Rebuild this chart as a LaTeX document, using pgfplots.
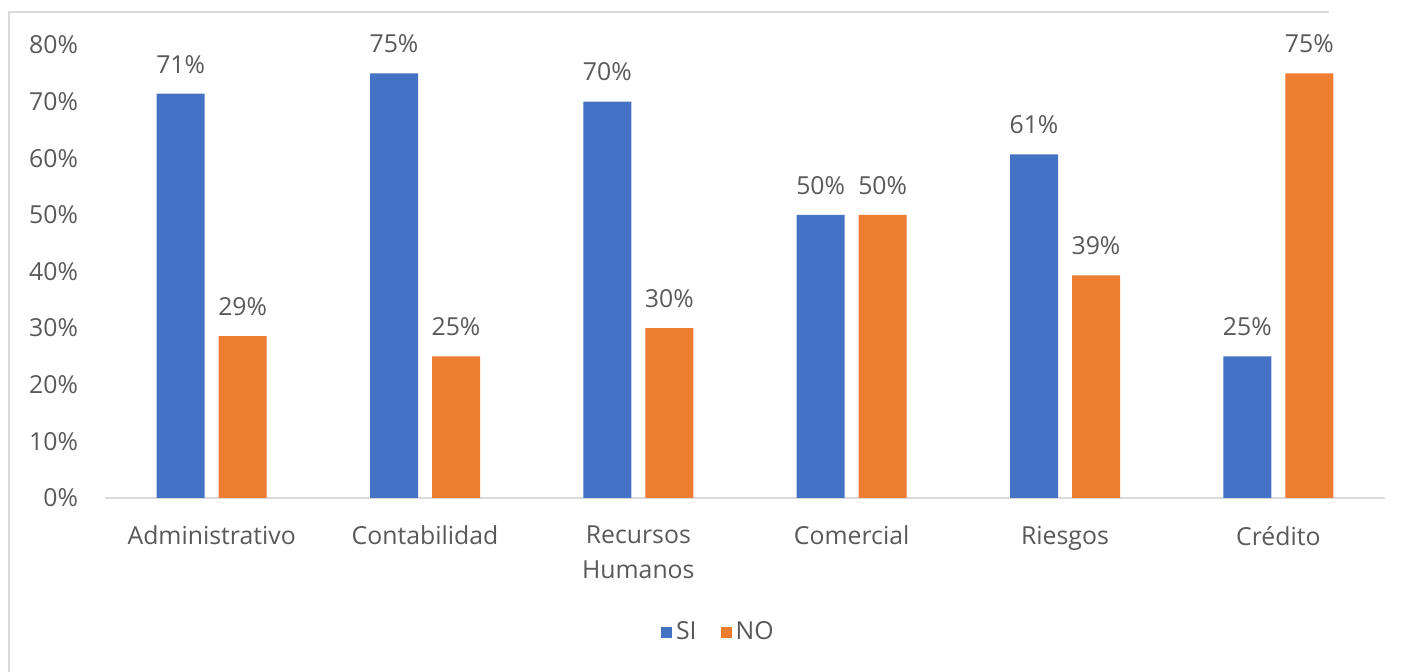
\documentclass[border=0pt]{standalone}
\usepackage{fontspec}
\setmainfont{Open Sans}
\usepackage{pgfplots}
\pgfplotsset{compat=1.18}
\definecolor{siblue}{HTML}{4472C4}
\definecolor{noorange}{HTML}{ED7D31}
\definecolor{txt}{HTML}{595959}
\definecolor{axgray}{HTML}{D9D9D9}
\newcommand{\cf}{\fontsize{12.4pt}{17.5pt}\selectfont}
\begin{document}
\begin{tikzpicture}
\begin{axis}[
  name=ax,
  scale only axis, width=640pt, height=226.5pt,
  xmin=-0.5, xmax=5.5, ymin=0, ymax=80,
  ybar, bar width=24pt,
  axis x line*=bottom, axis y line*=left,
  x axis line style={axgray, line width=1pt},
  y axis line style={draw=none},
  major tick length=0pt,
  xtick={0,...,5},
  xticklabels={Administrativo,Contabilidad,{Recursos\\Humanos},Comercial,Riesgos,Crédito},
  xticklabel style={align=center, font=\cf, text=txt},
  ytick={0,10,...,80},
  yticklabel={\pgfmathprintnumber{\tick}\%},
  yticklabel style={font=\cf, text=txt},
  /pgf/number format/assume math mode=true,
  x tick label style={yshift=-10.5pt},
  y tick label style={xshift=-10pt},
  nodes near coords={\pgfmathprintnumber[fixed,precision=0]{\pgfplotspointmeta}\%},
  every node near coord/.append style={font=\cf, text=txt, anchor=south, inner sep=0pt, yshift=10pt},
  clip=false,
  legend style={at={(0.48,-0.296)}, anchor=center, draw=none, legend columns=2, font=\cf, text=txt,
    /tikz/every even column/.append style={column sep=10pt}},
  legend image code/.code={\fill (0pt,-2.75pt) rectangle (5.5pt,2.75pt);},
]
\addplot[fill=siblue, draw=none, bar shift=-15.5pt] coordinates {(0,71.4) (1,75) (2,70) (3,50) (4,60.7) (5,25)};
\addplot[fill=noorange, draw=none, bar shift=15.5pt] coordinates {(0,28.6) (1,25) (2,30) (3,50) (4,39.3) (5,75)};
\legend{SI,NO}
\coordinate (O) at (rel axis cs:0,0);
\end{axis}
\pgfresetboundingbox
\path[use as bounding box] ([shift={(-52.5pt,-87pt)}]O) rectangle ++(704.5pt,336pt);
\draw[axgray, line width=1pt] ([shift={(-48pt,-87pt)}]O) -- ++(0,330pt) -- ++(660pt,0);
\end{tikzpicture}
\end{document}
